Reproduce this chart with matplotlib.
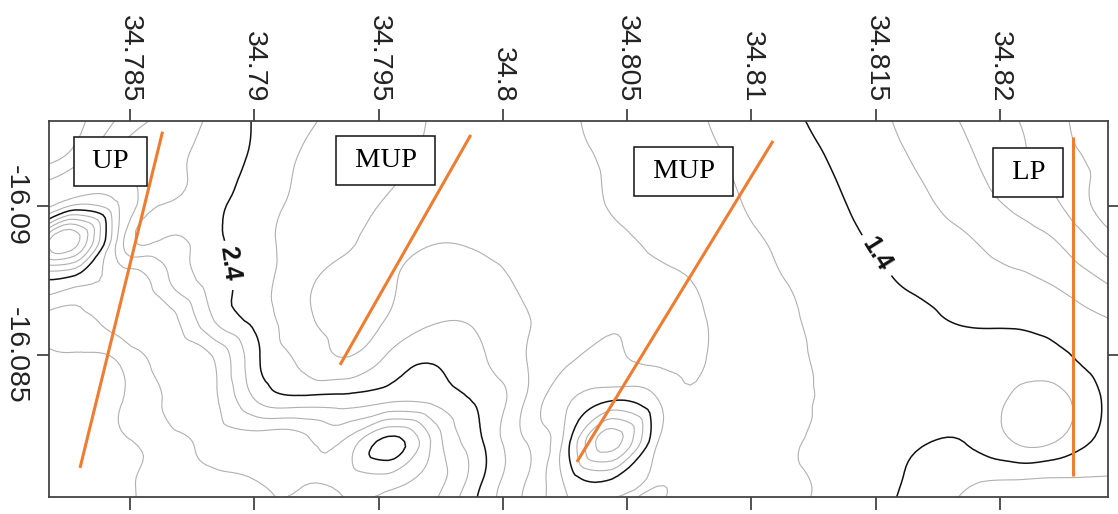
import numpy as np
import matplotlib.pyplot as plt
import matplotlib.tri as mtri

plt.rcParams['font.family'] = ['Liberation Sans', 'DejaVu Sans']
plt.rcParams['axes.unicode_minus'] = False

# grid positions of the surface (lon: west->east, lat: as drawn top->bottom)
lon = np.linspace(34.781, 34.826, 26)
lat = np.linspace(-16.0929, -16.0794, 11)

# surface values, one row per lat
values = [
    [3.45, 3.26, 2.97, 2.76, 2.57, 2.39, 2.26, 2.15, 2.07, 1.99, 1.93, 1.87, 1.82, 1.75, 1.68, 1.61, 1.52, 1.43, 1.33, 1.23, 1.10, 0.96, 0.81, 0.64, 0.47, 0.33],
    [3.30, 3.08, 2.78, 2.66, 2.52, 2.37, 2.19, 2.11, 2.04, 1.98, 1.93, 1.88, 1.83, 1.78, 1.71, 1.64, 1.56, 1.47, 1.38, 1.27, 1.16, 1.02, 0.86, 0.67, 0.55, 0.42],
    [2.85, 3.05, 2.96, 2.62, 2.48, 2.32, 2.16, 2.08, 1.99, 1.96, 1.92, 1.88, 1.84, 1.79, 1.74, 1.67, 1.59, 1.51, 1.42, 1.32, 1.22, 1.09, 0.95, 0.79, 0.50, 0.35],
    [3.50, 4.30, 2.90, 2.62, 2.47, 2.28, 2.13, 2.03, 1.96, 1.99, 1.97, 1.90, 1.86, 1.83, 1.77, 1.70, 1.63, 1.55, 1.46, 1.37, 1.29, 1.21, 1.10, 0.98, 0.70, 0.45],
    [3.30, 3.30, 3.15, 2.85, 2.53, 2.29, 2.07, 1.95, 1.98, 2.07, 2.08, 1.97, 1.92, 1.87, 1.83, 1.78, 1.68, 1.59, 1.52, 1.43, 1.36, 1.30, 1.24, 1.16, 0.99, 0.75],
    [2.98, 2.92, 3.10, 3.12, 2.65, 2.35, 2.06, 1.93, 2.02, 2.18, 2.17, 2.02, 1.93, 1.82, 1.84, 1.81, 1.72, 1.62, 1.55, 1.49, 1.43, 1.38, 1.37, 1.31, 1.22, 1.10],
    [2.75, 2.75, 2.82, 3.10, 3.05, 2.47, 2.18, 2.02, 2.26, 2.39, 2.25, 2.02, 1.82, 1.76, 1.83, 1.81, 1.73, 1.64, 1.57, 1.52, 1.50, 1.50, 1.52, 1.46, 1.30, 1.19],
    [2.70, 2.70, 2.79, 3.02, 3.08, 2.62, 2.49, 2.50, 2.58, 2.56, 2.38, 2.02, 1.62, 1.39, 1.58, 1.75, 1.70, 1.64, 1.57, 1.50, 1.52, 1.50, 1.64, 1.66, 1.38, 1.25],
    [2.68, 2.68, 2.78, 2.90, 3.05, 3.10, 3.08, 3.02, 3.47, 2.95, 2.45, 2.02, 1.47, 0.70, 1.58, 1.65, 1.68, 1.62, 1.55, 1.47, 1.41, 1.42, 1.61, 1.58, 1.33, 1.25],
    [2.66, 2.66, 2.76, 2.88, 2.95, 2.99, 3.02, 3.05, 3.08, 2.88, 2.45, 2.02, 1.55, 1.45, 1.61, 1.66, 1.66, 1.62, 1.55, 1.45, 1.33, 1.22, 1.18, 1.17, 1.18, 1.15],
    [2.64, 2.66, 2.76, 2.86, 2.93, 2.97, 2.98, 2.99, 3.05, 2.75, 2.38, 1.99, 1.62, 1.57, 1.62, 1.65, 1.66, 1.61, 1.53, 1.43, 1.27, 1.15, 1.12, 1.13, 1.12, 1.10],
]

x_ticks = [34.785, 34.79, 34.795, 34.8, 34.805, 34.81, 34.815, 34.82]
x_tick_labels = ['34.785', '34.79', '34.795', '34.8', '34.805', '34.81', '34.815', '34.82']
y_ticks = [-16.09, -16.085]
y_tick_labels = ['-16.09', '-16.085']

# profile lines (start / end)
profile_x = [[34.78631, 34.78299], [34.79871, 34.79345], [34.81087, 34.80298], [34.82294, 34.82294]]
profile_y = [[-16.09248, -16.08122], [-16.09237, -16.08467], [-16.09217, -16.08142], [-16.09230, -16.08095]]

# zone labels
zone_names = ['UP', 'MUP', 'MUP', 'LP']
zone_x = [34.78421, 34.79528, 34.80726, 34.82112]
zone_y = [-16.09149, -16.09151, -16.09114, -16.09111]

# where the contour labels sit, and how they are turned
label_pos = [(34.78902, -16.08808), (34.81509, -16.08842)]
label_rot = {'2.4': -82, '1.4': -58}

gray_levels = [0.6, 0.8, 1.0, 1.2, 1.6, 1.8, 2.0, 2.2, 2.6, 2.8, 3.0, 3.2, 3.6, 3.8, 4.0, 4.2]
black_levels = [0.4, 3.4]
labelled_levels = [1.4, 2.4]

# triangulate the grid cells and let matplotlib smooth the field
Z = np.array(values)
LON, LAT = np.meshgrid(lon, lat)
nr, nc = Z.shape
tris = []
for i in range(nr - 1):
    for j in range(nc - 1):
        a = i * nc + j
        tris.append([a, a + 1, a + nc])
        tris.append([a + 1, a + nc + 1, a + nc])
tri = mtri.Triangulation(LON.ravel(), LAT.ravel(), tris)
interp = mtri.CubicTriInterpolator(tri, Z.ravel(), kind='min_E')
tri_f, z_f = mtri.UniformTriRefiner(tri).refine_field(Z.ravel(), triinterpolator=interp, subdiv=3)

fig = plt.figure(figsize=(11.18, 5.14), dpi=100)
ax = fig.add_axes([49.3 / 1118, 17 / 514, 1059 / 1118, 376.3 / 514])

ax.tricontour(tri_f, z_f, levels=gray_levels, colors='#b0b0b0', linewidths=0.8)
ax.tricontour(tri_f, z_f, levels=black_levels, colors='#111111', linewidths=1.1)
cs = ax.tricontour(tri_f, z_f, levels=labelled_levels, colors='#111111', linewidths=1.1)
lbls = ax.clabel(cs, inline=True, fmt='%.1f', fontsize=18,
                 manual=label_pos, inline_spacing=6)
for t in lbls:
    t.set_fontweight('bold')
    t.set_rotation(label_rot.get(t.get_text(), t.get_rotation()))

for px, py in zip(profile_x, profile_y):
    ax.plot(px, py, color='#ee7d31', lw=2.2, solid_capstyle='butt', zorder=4)

for name, tx, ty in zip(zone_names, zone_x, zone_y):
    ax.text(tx, ty, ' ' + name + ' ', family='Liberation Serif', fontsize=20.5,
            ha='center', va='center', zorder=5,
            bbox=dict(boxstyle='square,pad=0.42', fc='white', ec='#111111', lw=1.1))

ax.set_xlim(34.781754, 34.824357)
ax.set_ylim(-16.080245, -16.092847)

ax.set_xticks(x_ticks)
ax.set_xticklabels(x_tick_labels, rotation=-90)
ax.set_yticks(y_ticks)
ax.set_yticklabels(y_tick_labels, rotation=-90, va='center')
ax.tick_params(axis='x', top=True, bottom=True, labeltop=True, labelbottom=False,
               direction='out', length=9, width=1.3, colors='#444444', labelcolor='#222222',
               labelsize=20.5, pad=4)
ax.tick_params(axis='y', left=True, right=True, labelleft=True, labelright=False,
               direction='out', length=9, width=1.3, colors='#444444', labelcolor='#222222',
               labelsize=20.5, pad=6)
for s in ax.spines.values():
    s.set_color('#444444')
    s.set_linewidth(1.3)

fig.savefig('out.png', dpi=100)
